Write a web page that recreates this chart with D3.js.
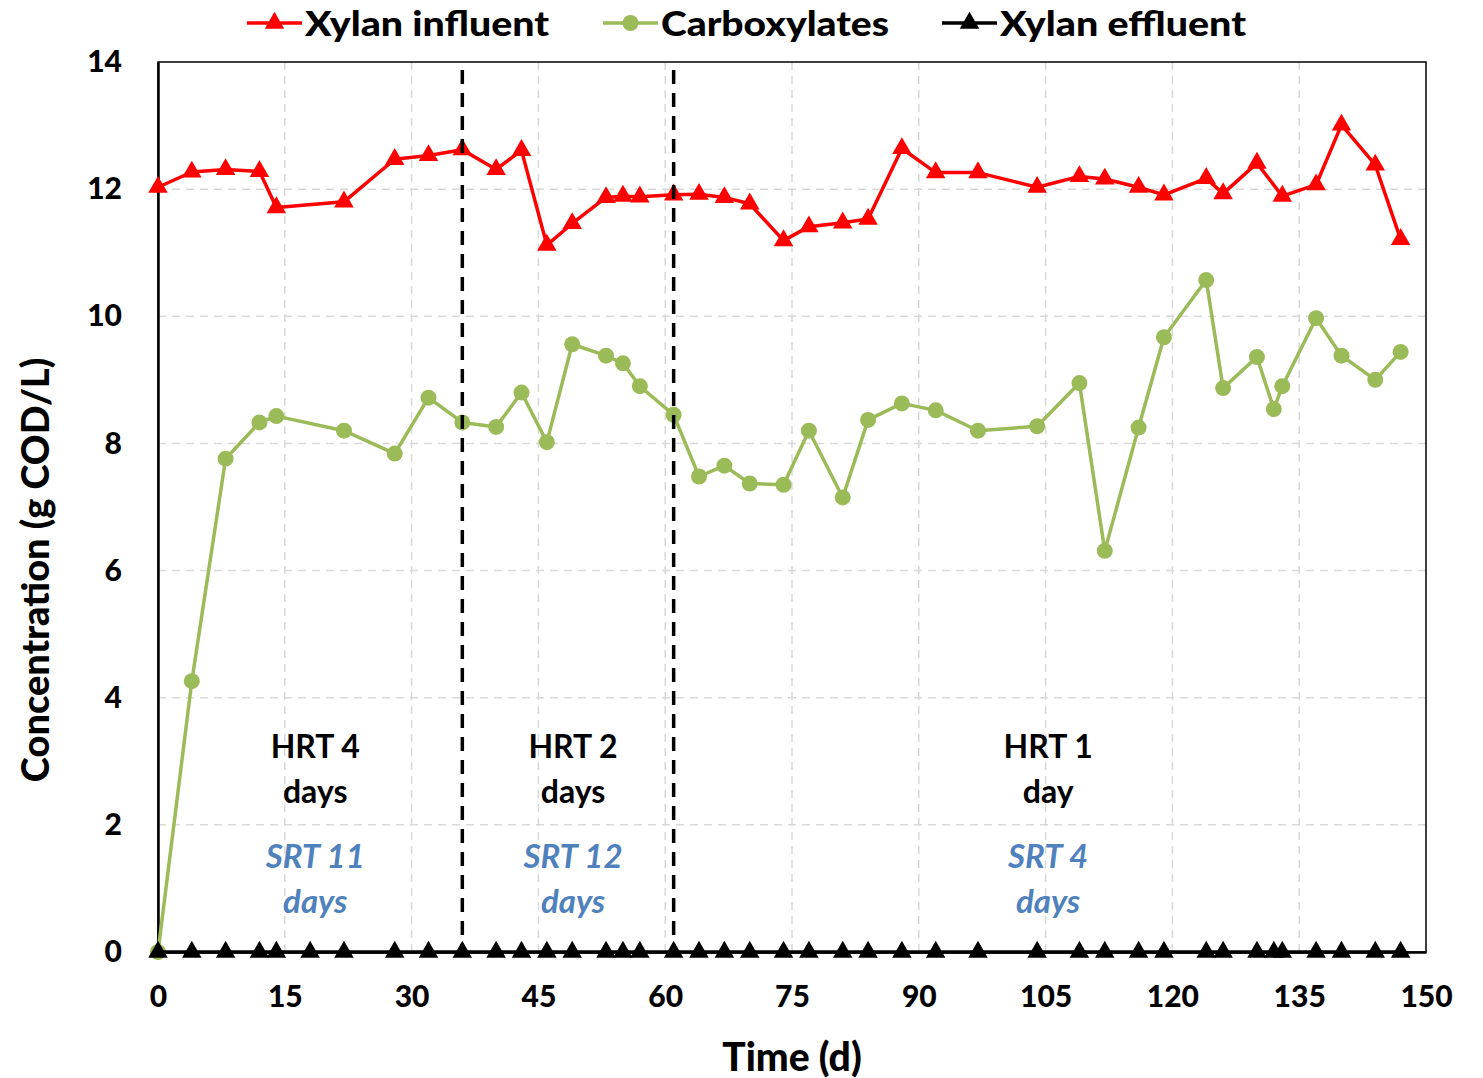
<!DOCTYPE html>
<html>
<head>
<meta charset="utf-8">
<script src="https://cdn.jsdelivr.net/npm/d3@7"></script>
<style>
  html, body { margin: 0; padding: 0; background: #fff; }
  svg { display: block; }
  text { font-family: Lato, "Open Sans", sans-serif; }
</style>
</head>
<body>
<svg id="chart" width="1483" height="1078"></svg>
<script>
// ---- Data ----
const influentDays = [0,4,8,12,14,22,28,32,36,40,43,46,49,53,55,57,61,64,67,70,74,77,81,84,88,92,97,104,109,112,116,119,124,126,130,133,137,140,144,147];
const influentValues = [12.03,12.27,12.31,12.28,11.71,11.80,12.47,12.53,12.62,12.31,12.61,11.12,11.46,11.87,11.89,11.88,11.91,11.92,11.87,11.77,11.19,11.41,11.47,11.53,12.64,12.26,12.26,12.03,12.20,12.16,12.03,11.91,12.17,11.93,12.41,11.89,12.07,13.01,12.38,11.21];

const carbDays = [0,4,8,12,14,22,28,32,36,40,43,46,49,53,55,57,61,64,67,70,74,77,81,84,88,92,97,104,109,112,116,119,124,126,130,132,133,137,140,144,147];
const carbValues = [0,4.26,7.76,8.33,8.43,8.20,7.84,8.72,8.33,8.26,8.80,8.02,9.56,9.38,9.26,8.90,8.45,7.48,7.65,7.37,7.35,8.20,7.15,8.37,8.63,8.52,8.20,8.27,8.95,6.31,8.25,9.67,10.57,8.87,9.36,8.54,8.90,9.97,9.38,9.00,9.44];

const effluentDays = [0,4,8,12,14,18,22,28,32,36,40,43,46,49,53,55,57,61,64,67,70,74,77,81,84,88,92,97,104,109,112,116,119,124,126,130,132,133,137,140,144,147];
const effluentValues = [0,0,0,0,0,0,0,0,0,0,0,0,0,0,0,0,0,0,0,0,0,0,0,0,0,0,0,0,0,0,0,0,0,0,0,0,0,0,0,0,0,0];

const xTicks = [0,15,30,45,60,75,90,105,120,135,150];
const yTicks = [0,2,4,6,8,10,12,14];
const phaseBoundaries = [36,61];
const seriesNames = ["Xylan influent","Carboxylates","Xylan effluent"];
const phaseLabels = [
  {x: 18.6, hrt: ["HRT 4","days"], srt: ["SRT 11","days"]},
  {x: 49.1, hrt: ["HRT 2","days"], srt: ["SRT 12","days"]},
  {x: 105.3, hrt: ["HRT 1","day"], srt: ["SRT 4","days"]}
];

// ---- Layout ----
const svg = d3.select("#chart");
const pL = 158, pR = 1426, pT = 62, pB = 952;
const x = d3.scaleLinear().domain([0,150]).range([pL,pR]);
const y = d3.scaleLinear().domain([0,14]).range([pB,pT]);

const colors = {inf: "#ff0000", carb: "#9bbb59", eff: "#000000", blue: "#4f81bd"};

// gridlines
const grid = svg.append("g");
grid.selectAll(".gy").data(yTicks.slice(1,-1)).join("line")
  .attr("x1", pL).attr("x2", pR)
  .attr("y1", d => y(d)).attr("y2", d => y(d))
  .attr("stroke", "#d9d9d9").attr("stroke-width", 1.5).attr("stroke-dasharray", "8,6");
grid.selectAll(".gx").data(xTicks.slice(1,-1)).join("line")
  .attr("x1", d => x(d)).attr("x2", d => x(d))
  .attr("y1", pT).attr("y2", pB)
  .attr("stroke", "#d9d9d9").attr("stroke-width", 1.5).attr("stroke-dasharray", "8,6");

// frame
svg.append("rect").attr("x", pL).attr("y", pT)
  .attr("width", pR-pL).attr("height", pB-pT)
  .attr("fill", "none").attr("stroke", "#000").attr("stroke-width", 1.5);

// axes
const xAxis = d3.axisBottom(x).tickValues(xTicks).tickSize(0).tickPadding(34);
const gx = svg.append("g").attr("transform", `translate(0,${pB})`).call(xAxis);
gx.select(".domain").attr("stroke", "#000").attr("stroke-width", 2.5);
gx.selectAll("text").attr("font-size", 30).attr("font-weight", 900).attr("fill", "#000")
  .attr("font-family", "Lato, sans-serif");

const yAxis = d3.axisLeft(y).tickValues(yTicks).tickSize(0).tickPadding(36);
const gy = svg.append("g").attr("transform", `translate(${pL},0)`).call(yAxis);
gy.select(".domain").attr("stroke", "#000").attr("stroke-width", 2.5);
gy.selectAll("text").attr("font-size", 30).attr("font-weight", 900).attr("fill", "#000")
  .attr("font-family", "Lato, sans-serif");

// series helpers
const triangle = d3.symbol().type(d3.symbolTriangle).size(165);
function drawSeries(days, vals, color, marker) {
  const pts = days.map((d,i) => [d, vals[i]]);
  const line = d3.line().x(d => x(d[0])).y(d => y(d[1]));
  const g = svg.append("g");
  g.append("path").attr("d", line(pts)).attr("fill", "none")
    .attr("stroke", color).attr("stroke-width", 3.5).attr("stroke-linejoin", "round");
  if (marker === "tri") {
    g.selectAll("path.m").data(pts).join("path").attr("class","m")
      .attr("d", triangle)
      .attr("transform", d => `translate(${x(d[0])},${y(d[1])})`)
      .attr("fill", color);
  } else {
    g.selectAll("circle").data(pts).join("circle")
      .attr("cx", d => x(d[0])).attr("cy", d => y(d[1])).attr("r", 8)
      .attr("fill", color);
  }
}
drawSeries(influentDays, influentValues, colors.inf, "tri");
drawSeries(carbDays, carbValues, colors.carb, "circ");
drawSeries(effluentDays, effluentValues, colors.eff, "tri");

// phase boundaries
svg.selectAll(".pb").data(phaseBoundaries).join("line")
  .attr("x1", d => x(d)).attr("x2", d => x(d))
  .attr("y1", pT + 8).attr("y2", pB)
  .attr("stroke", "#000").attr("stroke-width", 3.5).attr("stroke-dasharray", "14,9");

// phase labels
phaseLabels.forEach(p => {
  const cx = x(p.x);
  const t1 = svg.append("text").attr("x", cx).attr("text-anchor", "middle")
    .attr("font-size", 32).attr("font-weight", 700).attr("fill", "#000");
  t1.append("tspan").attr("x", cx).attr("y", 758).text(p.hrt[0]);
  t1.append("tspan").attr("x", cx).attr("y", 803).text(p.hrt[1]);
  const t2 = svg.append("text").attr("x", cx).attr("text-anchor", "middle")
    .attr("font-size", 33).attr("font-weight", 700).attr("font-style", "italic").attr("fill", colors.blue);
  t2.append("tspan").attr("x", cx).attr("y", 868).text(p.srt[0]);
  t2.append("tspan").attr("x", cx).attr("y", 913).text(p.srt[1]);
});

// axis titles
svg.append("text").attr("x", (pL+pR)/2).attr("y", 1071).attr("text-anchor", "middle")
  .attr("font-size", 39).attr("font-weight", 900).attr("fill", "#000").text("Time (d)");
svg.append("text").attr("transform", "translate(49,570) rotate(-90)").attr("text-anchor", "middle")
  .attr("font-size", 38).attr("font-weight", 900).attr("fill", "#000").text("Concentration (g COD/L)");

// legend
const legendItems = [
  {name: seriesNames[0], color: colors.inf, marker: "tri", lx: 247, w: 244},
  {name: seriesNames[1], color: colors.carb, marker: "circ", lx: 603, w: 228},
  {name: seriesNames[2], color: colors.eff, marker: "tri", lx: 942, w: 246}
];
const lg = svg.append("g");
legendItems.forEach(it => {
  const ly = 23;
  lg.append("line").attr("x1", it.lx).attr("x2", it.lx + 55).attr("y1", ly).attr("y2", ly)
    .attr("stroke", it.color).attr("stroke-width", 3.5);
  if (it.marker === "tri") {
    lg.append("path").attr("d", triangle).attr("transform", `translate(${it.lx+27.5},${ly})`).attr("fill", it.color);
  } else {
    lg.append("circle").attr("cx", it.lx+27.5).attr("cy", ly).attr("r", 8).attr("fill", it.color);
  }
  lg.append("text").attr("x", it.lx + 58).attr("y", ly + 13).attr("font-size", 35)
    .attr("font-weight", 900).attr("fill", "#000")
    .attr("textLength", it.w).attr("lengthAdjust", "spacingAndGlyphs").text(it.name);
});
</script>
</body>
</html>
